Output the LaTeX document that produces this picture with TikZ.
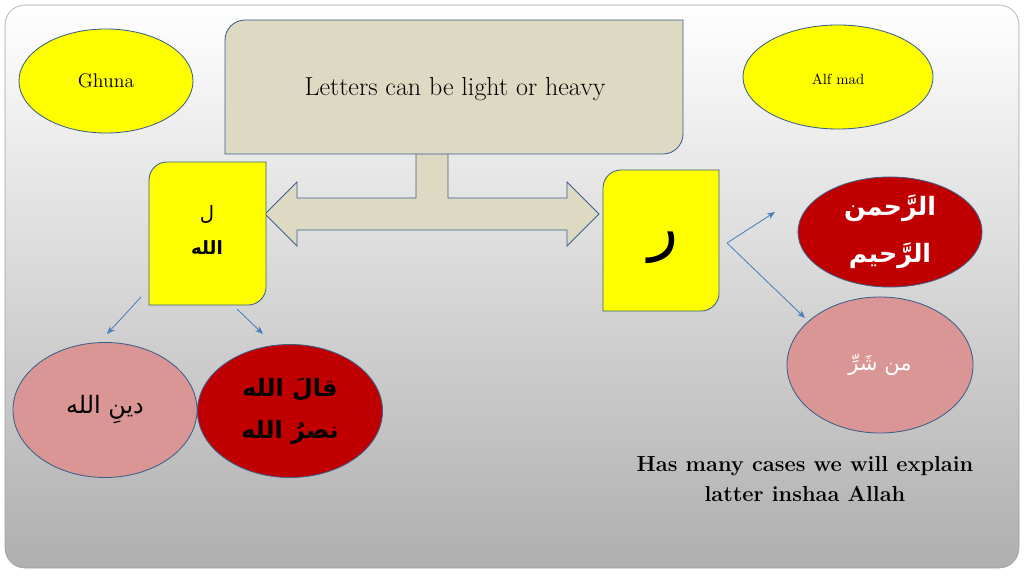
\documentclass[tikz,border=0pt]{standalone}
\usepackage{fontspec}
\newfontfamily\arabicfont[Script=Arabic]{DejaVu Sans}
\TeXXeTstate=1
\usepackage{tikz}
\usetikzlibrary{positioning,arrows.meta,shapes.geometric}
\definecolor{edge}{HTML}{3B5F8A}
\definecolor{link}{HTML}{4A7EBB}
\definecolor{sand}{HTML}{DDD9C3}
\definecolor{rose}{HTML}{D99694}
\definecolor{wine}{HTML}{C00000}
\definecolor{lemon}{HTML}{FFFF00}
\tikzset{
bubble/.style={
ellipse,
draw=edge,
line width=0.6pt,
inner sep=0pt,
align=center
},
sandshape/.style={
fill=sand,
draw=edge,
line width=0.6pt
},
lemonshape/.style={
fill=lemon,
draw=edge,
line width=0.6pt
},
arabic/.style n args={3}{
align=center,
font=\arabicfont#3\fontsize{#1}{#2}\selectfont
},
arrow/.style={
-{Stealth[length=2mm,width=1.6mm]},
draw=link,
line width=0.6pt
}
}

\begin{document}
\begin{tikzpicture}[x=0.025cm,y=0.025cm]
\useasboundingbox (0,0) rectangle (1024,574);
\fill[white] (0,0) rectangle (1024,574);
\shade[top color=white,bottom color=gray!63,draw=gray!75,rounded corners=0.5cm] (5,6) rectangle (1019,569);

\node[bubble,fill=lemon,minimum width=4.35cm,minimum height=2.6cm,font=\fontsize{14}{16}\selectfont](ghuna) at (106,493){Ghuna};
\node[bubble,fill=lemon,minimum width=4.75cm,minimum height=2.6cm,font=\fontsize{10.5}{12}\selectfont,text height=2.4ex](alf) at (838,497){Alf mad};

\filldraw[sandshape] (416,430) -- (416,376) -- (297,376) -- (297,392) -- (265,360) -- (297,328) -- (297,344)
 -- (567,344) -- (567,328) -- (599,360) -- (567,392) -- (567,376) -- (448,376) -- (448,430) -- cycle;
\filldraw[sandshape] (225,420) -- (225,534) arc[start angle=180,end angle=90,radius=20] -- (683,554)
 -- (683,440) arc[start angle=0,end angle=-90,radius=20] -- cycle;
\node[font=\fontsize{18.5}{22}\selectfont](title) at (455,485){Letters can be light or heavy};

\filldraw[lemonshape] (149,269) -- (149,394) arc[start angle=180,end angle=90,radius=18] -- (266,412)
 -- (266,287) arc[start angle=0,end angle=-90,radius=18] -- cycle;
\node[arabic={14}{16}{}](lam) at (207,359){\beginR ل\endR};
\node[arabic={13}{16}{\bfseries}](allah) at (207,326){\beginR الله\endR};

\filldraw[lemonshape] (603,263) -- (603,386) arc[start angle=180,end angle=90,radius=18] -- (719,404)
 -- (719,281) arc[start angle=0,end angle=-90,radius=18] -- cycle;
\node[arabic={44}{48}{}](ra) at (663,326){\beginR ر\endR};

\node[bubble,fill=rose,minimum width=4.6cm,minimum height=3.375cm,arabic={17}{22}{}](din) at (105,164){\beginR دينِ الله\endR};
\node[bubble,fill=wine,minimum width=4.625cm,minimum height=3.325cm,arabic={17}{30}{\bfseries},text=black](qala) at (290,163){\beginR قالَ الله\endR\\\beginR نصرُ الله\endR};

\node[bubble,fill=wine,minimum width=4.6cm,minimum height=2.75cm,arabic={18}{34}{\bfseries},text=white](rahman) at (890,342){\beginR الرَّحمن\endR\\\beginR الرَّحيم\endR};
\node[bubble,fill=rose,minimum width=4.65cm,minimum height=3.4cm,arabic={15}{20}{},text=white](sharr) at (880,209){\beginR من شَرِّ\endR};

\node[align=center,font=\fontsize{15.5}{21.5}\selectfont\bfseries](note) at (805,95){Has many cases we will explain\\latter inshaa Allah};

\coordinate (l1) at (141,277);
\coordinate (l2) at (237,265);
\coordinate (l1e) at (107,240);
\coordinate (l2e) at (263,240);
\coordinate (fork) at (727,331);
\coordinate (r1e) at (775,362);
\coordinate (r2e) at (805,256);

\draw[arrow](l1)--(l1e);
\draw[arrow](l2)--(l2e);
\draw[arrow](fork)--(r1e);
\draw[arrow](fork)--(r2e);
\end{tikzpicture}
\end{document}
